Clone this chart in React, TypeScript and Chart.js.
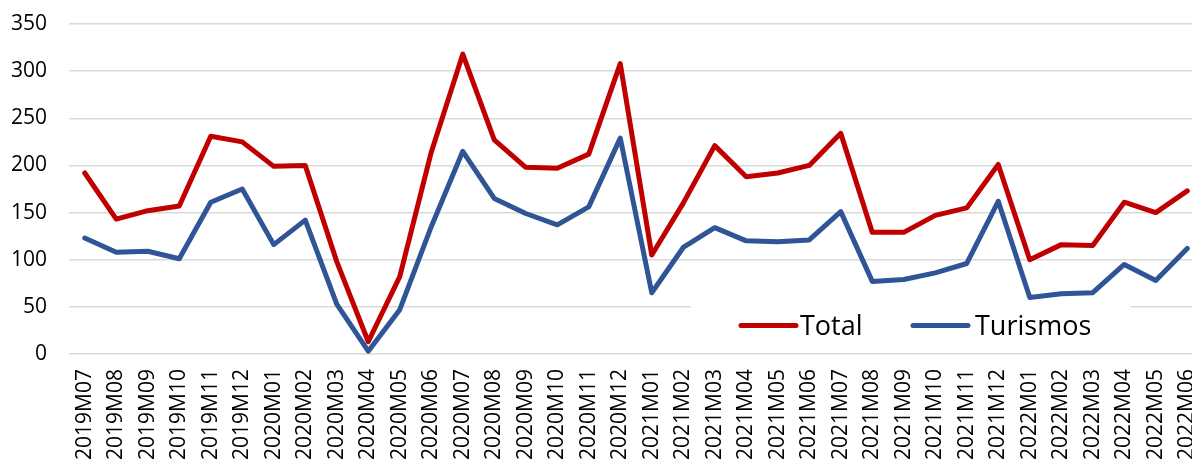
import React, { useEffect, useRef } from "react";
import { Chart, registerables } from "chart.js";

Chart.register(...registerables);

const categories = [
  "2019M07", "2019M08", "2019M09", "2019M10", "2019M11", "2019M12",
  "2020M01", "2020M02", "2020M03", "2020M04", "2020M05", "2020M06",
  "2020M07", "2020M08", "2020M09", "2020M10", "2020M11", "2020M12",
  "2021M01", "2021M02", "2021M03", "2021M04", "2021M05", "2021M06",
  "2021M07", "2021M08", "2021M09", "2021M10", "2021M11", "2021M12",
  "2022M01", "2022M02", "2022M03", "2022M04", "2022M05", "2022M06",
];

const totalValues = [
  192, 143, 152, 157, 231, 225, 199, 200, 98, 13, 82, 214,
  318, 227, 198, 197, 212, 308, 105, 160, 221, 188, 192, 200,
  234, 129, 129, 147, 155, 201, 100, 116, 115, 161, 150, 173,
];

const turismosValues = [
  123, 108, 109, 101, 161, 175, 116, 142, 53, 3, 47, 135,
  215, 165, 149, 137, 156, 229, 65, 113, 134, 120, 119, 121,
  151, 77, 79, 86, 96, 162, 60, 64, 65, 95, 78, 112,
];

const seriesNames = ["Total", "Turismos"];
const seriesColors = ["#C00000", "#2F5597"];

const FONT = "'Open Sans', 'DejaVu Sans', sans-serif";

const legendPlugin = {
  id: "insideLegend",
  afterDatasetsDraw(chart: any) {
    const ctx = chart.ctx;
    ctx.save();
    const boxX = 691;
    const boxY = 302;
    ctx.fillStyle = "#ffffff";
    ctx.fillRect(boxX, boxY, 1131 - boxX, 348 - boxY);
    ctx.font = `27px ${FONT}`;
    ctx.textBaseline = "alphabetic";
    ctx.textAlign = "left";
    const lineY = 325.5;
    const baseY = 335;
    const items = [
      { x: 741, textX: 800 },
      { x: 913, textX: 975 },
    ];
    chart.data.datasets.forEach((ds: any, i: number) => {
      const it = items[i];
      ctx.strokeStyle = ds.borderColor;
      ctx.lineWidth = 5;
      ctx.lineCap = "round";
      ctx.beginPath();
      ctx.moveTo(it.x, lineY);
      ctx.lineTo(it.x + 55, lineY);
      ctx.stroke();
      ctx.fillStyle = "#000000";
      ctx.fillText(ds.label, it.textX, baseY);
    });
    ctx.restore();
  },
};

export default function App() {
  const canvasRef = useRef<HTMLCanvasElement | null>(null);

  useEffect(() => {
    document.body.style.margin = "0";
    document.body.style.overflow = "hidden";
    const canvas = canvasRef.current;
    if (!canvas) return;
    const chart = new Chart(canvas, {
      type: "line",
      data: {
        labels: categories,
        datasets: [
          {
            label: seriesNames[0],
            data: totalValues,
            borderColor: seriesColors[0],
            backgroundColor: seriesColors[0],
            borderWidth: 5,
            pointRadius: 0,
            tension: 0,
            borderJoinStyle: "round",
            borderCapStyle: "round",
          },
          {
            label: seriesNames[1],
            data: turismosValues,
            borderColor: seriesColors[1],
            backgroundColor: seriesColors[1],
            borderWidth: 5,
            pointRadius: 0,
            tension: 0,
            borderJoinStyle: "round",
            borderCapStyle: "round",
          },
        ],
      },
      options: {
        animation: false,
        responsive: false,
        maintainAspectRatio: false,
        devicePixelRatio: 1,
        layout: { padding: { top: 24, right: 0, left: 0, bottom: 0 } },
        plugins: {
          legend: { display: false },
          tooltip: { enabled: false },
        },
        scales: {
          x: {
            offset: true,
            grid: { display: false, drawTicks: false },
            border: { display: false },
            ticks: {
              autoSkip: false,
              maxRotation: 90,
              minRotation: 90,
              padding: 15,
              color: "#000000",
              font: { family: FONT, size: 21 },
            },
            afterFit(scale: any) {
              scale.height = 105;
              scale.paddingLeft = 0;
              scale.paddingRight = 0;
            },
          },
          y: {
            min: 0,
            max: 350,
            ticks: {
              stepSize: 50,
              padding: 22,
              color: "#000000",
              font: { family: FONT, size: 21 },
            },
            grid: { color: "#d9d9d9", lineWidth: 1.5, drawTicks: false },
            border: { display: false },
            afterFit(scale: any) {
              scale.width = 69;
              scale.paddingTop = 0;
              scale.paddingBottom = 0;
            },
          },
        },
      },
      plugins: [legendPlugin],
    });
    return () => chart.destroy();
  }, []);

  return (
    <div style={{ width: 1192, height: 459, overflow: "hidden", background: "#fff" }}>
      <canvas ref={canvasRef} width={1203} height={459} style={{ display: "block" }} />
    </div>
  );
}
